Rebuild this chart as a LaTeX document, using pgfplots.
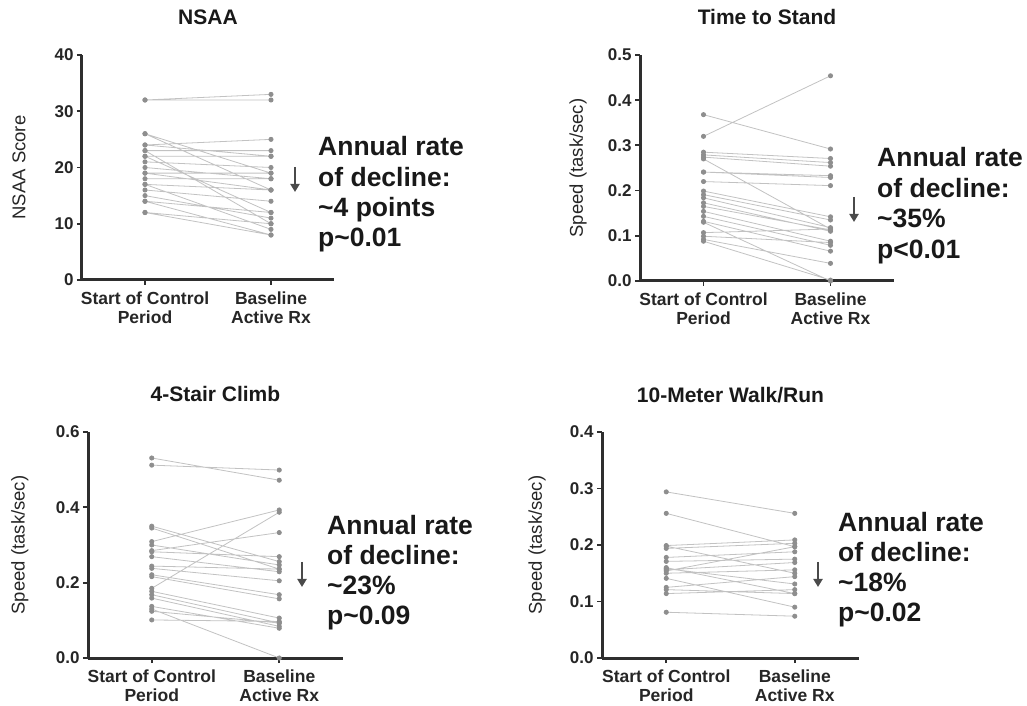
\documentclass[border=0pt]{standalone}
\usepackage{pgfplots}
\pgfplotsset{compat=1.18}
\usepackage{fontspec}
\setmainfont{Liberation Sans}
\usetikzlibrary{arrows.meta}
\definecolor{axisgray}{HTML}{2E2E2E}
\definecolor{linegray}{HTML}{C2C2C2}
\definecolor{markgray}{HTML}{8E8E8E}
\definecolor{arrowgray}{HTML}{4A4A4A}
\pgfplotsset{
  paired/.style={
    scale only axis, anchor=south west,
    xmin=-0.5, xmax=1.5, ymin=0,
    axis lines*=left,
    axis line style={line width=3pt, draw=axisgray},
    every outer x axis line/.append style={line width=3pt, draw=axisgray},
    every outer y axis line/.append style={line width=3pt, draw=axisgray},
    x axis line style={line width=3pt, draw=axisgray},
    y axis line style={line width=3pt, draw=axisgray},
    xtick={0,1},
    xticklabels={Start of Control\\Period, Baseline\\Active Rx},
    xticklabel style={align=center, font=\fontsize{17.5}{19.5}\selectfont\bfseries, text=black!85, yshift=-3pt},
    yticklabel style={font=\fontsize{17}{19}\selectfont\bfseries, text=black!85},
    tick align=outside, major tick length=5pt,
    major tick style={line width=1.8pt, draw=axisgray},
    every tick/.append style={line width=1.8pt, draw=axisgray},
    ylabel style={font=\fontsize{18.5}{21}\selectfont, anchor=center, text=black!85},
    title style={font=\fontsize{21}{24}\selectfont\bfseries, anchor=base, yshift=24pt, text=black!90},
    clip=false,
    empty line=jump,
  },
  subj/.style={linegray, line width=0.8pt, mark=*, mark size=2.1pt,
    mark options={draw=markgray, fill=markgray}},
}
\tikzset{
  annot/.style={anchor=base west, inner sep=0pt, font=\fontsize{26.5}{30}\selectfont\bfseries, text=black!90},
  arr/.style={arrowgray, line width=2.4pt, -{Triangle[width=9pt,length=8pt]}},
}
\begin{document}
\begin{tikzpicture}
\useasboundingbox (0,0) rectangle (1027pt,706pt);

% ---------------- NSAA ----------------
\begin{axis}[paired, at={(82pt,426pt)}, width=252pt, height=225pt,
  ymax=40, ytick={0,10,20,30,40}, yticklabels={0,10,20,30,40},
  title={NSAA}, ylabel={NSAA Score},
  ylabel style={at={(axis description cs:-0.25,0.5)}}]
\addplot[subj] coordinates {
(0,32) (1,33)

(0,32) (1,32)

(0,26) (1,16)

(0,26) (1,19)

(0,24) (1,25)

(0,24) (1,22)

(0,23) (1,23)

(0,23) (1,10)

(0,22) (1,12)

(0,22) (1,22)

(0,21) (1,20)

(0,20) (1,18)

(0,19) (1,19)

(0,19) (1,16)

(0,18) (1,18)

(0,17) (1,9)

(0,17) (1,16)

(0,16) (1,14)

(0,15) (1,11)

(0,14) (1,8)

(0,14) (1,12)

(0,12) (1,8)

(0,12) (1,10)
};
\end{axis}
\foreach \t [count=\i from 0] in {Annual rate, of decline:, \textasciitilde4 points, p\textasciitilde0.01}
  \node[annot] at (318pt,{550pt-\i*30.2pt}) {\t};
\draw[arr] (295pt,539pt) -- (295pt,514pt);

% ---------------- Time to Stand ----------------
\begin{axis}[paired, at={(640pt,425pt)}, width=254pt, height=226pt,
  ymax=0.5, ytick={0,0.1,0.2,0.3,0.4,0.5},
  yticklabels={0.0,0.1,0.2,0.3,0.4,0.5},
  title={Time to Stand}, ylabel={Speed (task/sec)},
  ylabel style={at={(axis description cs:-0.244,0.5)}}]
\addplot[subj] coordinates {
(0,0.320) (1,0.454)

(0,0.368) (1,0.292)

(0,0.285) (1,0.271)

(0,0.279) (1,0.262)

(0,0.274) (1,0.254)

(0,0.270) (1,0.115)

(0,0.241) (1,0.233)

(0,0.241) (1,0.229)

(0,0.220) (1,0.211)

(0,0.199) (1,0.142)

(0,0.191) (1,0.135)

(0,0.184) (1,0.118)

(0,0.173) (1,0.110)

(0,0.165) (1,0.113)

(0,0.154) (1,0.088)

(0,0.143) (1,0.079)

(0,0.132) (1,0.066)

(0,0.130) (1,0.000)

(0,0.107) (1,0.115)

(0,0.099) (1,0.085)

(0,0.092) (1,0.039)

(0,0.088) (1,0.002)
};
\end{axis}
\foreach \t [count=\i from 0] in {Annual rate, of decline:, \textasciitilde35\%, p<0.01}
  \node[annot] at (877pt,{539pt-\i*30.5pt}) {\t};
\draw[arr] (854pt,509pt) -- (854pt,484pt);

% ---------------- 4-Stair Climb ----------------
\begin{axis}[paired, at={(88pt,48pt)}, width=255pt, height=226pt,
  ymax=0.6, ytick={0,0.2,0.4,0.6},
  yticklabels={0.0,0.2,0.4,0.6},
  title={4-Stair Climb}, ylabel={Speed (task/sec)},
  ylabel style={at={(axis description cs:-0.267,0.5)}}]
\addplot[subj] coordinates {
(0,0.531) (1,0.472)

(0,0.512) (1,0.499)

(0,0.350) (1,0.256)

(0,0.345) (1,0.236)

(0,0.309) (1,0.393)

(0,0.185) (1,0.387)

(0,0.300) (1,0.247)

(0,0.285) (1,0.333)

(0,0.282) (1,0.269)

(0,0.269) (1,0.229)

(0,0.244) (1,0.236)

(0,0.238) (1,0.205)

(0,0.221) (1,0.168)

(0,0.216) (1,0.157)

(0,0.177) (1,0.106)

(0,0.168) (1,0.093)

(0,0.159) (1,0.084)

(0,0.137) (1,0.079)

(0,0.130) (1,0.000)

(0,0.124) (1,0.093)

(0,0.101) (1,0.097)
};
\end{axis}
\foreach \t [count=\i from 0] in {Annual rate, of decline:, \textasciitilde23\%, p\textasciitilde0.09}
  \node[annot] at (327pt,{171pt-\i*30pt}) {\t};
\draw[arr] (302pt,144pt) -- (302pt,119pt);

% ---------------- 10-Meter Walk/Run ----------------
\begin{axis}[paired, at={(602pt,48pt)}, width=257pt, height=226pt,
  ymax=0.4, ytick={0,0.1,0.2,0.3,0.4},
  yticklabels={0.0,0.1,0.2,0.3,0.4},
  title={10-Meter Walk/Run}, ylabel={Speed (task/sec)},
  ylabel style={at={(axis description cs:-0.253,0.5)}}]
\addplot[subj] coordinates {
(0,0.294) (1,0.256)

(0,0.256) (1,0.197)

(0,0.198) (1,0.150)

(0,0.194) (1,0.203)

(0,0.199) (1,0.209)

(0,0.178) (1,0.188)

(0,0.171) (1,0.175)

(0,0.158) (1,0.131)

(0,0.154) (1,0.197)

(0,0.150) (1,0.156)

(0,0.141) (1,0.090)

(0,0.125) (1,0.144)

(0,0.121) (1,0.114)

(0,0.114) (1,0.121)

(0,0.081) (1,0.074)

(0,0.156) (1,0.169)

(0,0.160) (1,0.114)
};
\end{axis}
\foreach \t [count=\i from 0] in {Annual rate, of decline:, \textasciitilde18\%, p\textasciitilde0.02}
  \node[annot] at (838pt,{174pt-\i*30pt}) {\t};
\draw[arr] (818pt,144pt) -- (818pt,119pt);
\end{tikzpicture}
\end{document}
